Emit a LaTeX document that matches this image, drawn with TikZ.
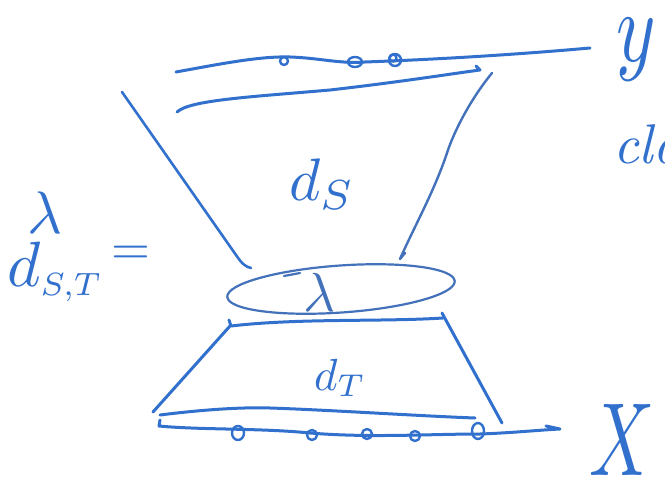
\documentclass[tikz,border=0pt]{standalone}
\usetikzlibrary{shapes.geometric}
\definecolor{ink}{RGB}{50,112,205}
\definecolor{inkb}{RGB}{68,114,186}
\begin{document}
\begin{tikzpicture}[x=1pt,y=-1pt, line cap=round, line join=round,
  pen/.style={draw=ink, line width=3pt},
  thinpen/.style={draw=inkb, line width=2.2pt},
  dot/.style={draw=ink, line width=2.4pt},
  lbl/.style={text=ink, inner sep=0pt}]
\useasboundingbox (0,0) rectangle (665,487);
\fill[white] (0,0) rectangle (665,487);

% top lines (Y space)
\draw[pen] (176,72) .. controls (220,64) and (260,56) .. (290,57)
  .. controls (320,58) and (340,64) .. (365,62)
  .. controls (420,60) and (500,56) .. (590,48);
\draw[dot] (284,61) circle[radius=4];
\draw[dot] (355,62) ellipse[x radius=7, y radius=5];
\draw[dot] (395,60) circle[radius=6];
\draw[dot] (393,58) circle[radius=3.5];
\draw[pen] (177,112) .. controls (190,100) and (250,97) .. (330,90)
  .. controls (400,82) and (450,74) .. (480,70) -- (476,66);

% slanted sides of the upper funnel
\draw[pen, line width=2.6pt] (122,92) -- (236,255) .. controls (242,264) and (246,267) .. (251,268);
\draw[thinpen, line width=2.4pt] (492,73) .. controls (470,100) and (455,130) .. (448,150)
  .. controls (435,190) and (415,225) .. (400,259) -- (405,253);

% ellipse with lambda
\node[ellipse, thinpen, minimum width=228pt, minimum height=47pt, rotate=4, inner sep=0pt] (ell) at (341,289) {};
\draw[thinpen] (284,276) -- (300,273);
\node[lbl, text=inkb, scale=5.5] (lam) at (320,292) {$\lambda$};

% lower trapezoid
\draw[pen] (229,320) -- (231,326) .. controls (300,318) and (380,322) .. (443,318);
\draw[pen] (442,313) -- (502,423);
\draw[pen] (230,326) -- (153,412);

% bottom lines (X space)
\draw[pen] (160,415) .. controls (200,410) and (240,407) .. (270,408)
  .. controls (330,410) and (420,416) .. (475,418);
\draw[pen] (160,420) -- (159,426) .. controls (200,430) and (260,428) .. (310,433)
  .. controls (370,438) and (430,434) .. (480,434)
  .. controls (510,433) and (540,430) .. (560,429) -- (546,426);
\draw[dot] (238,433) ellipse[x radius=6, y radius=7];
\draw[dot] (312,435) circle[radius=5];
\draw[dot] (367,434) circle[radius=5];
\draw[dot] (415,436) circle[radius=5];
\draw[dot] (478,431) ellipse[x radius=6, y radius=8];

% labels
\node[lbl, scale=6] (ds) at (322,184) {$d_S$};
\node[lbl, scale=4.5] (dt) at (340,378) {$d_T$};
\node[lbl, scale=6.4, anchor=base west] (dst) at (6,286) {$d_{\scalebox{0.72}{$\scriptstyle S,T$}}$};
\node[lbl, scale=6] (lam2) at (45,213) {$\lambda$};
\node[lbl, scale=5] (eq) at (131,255) {$=$};
\node[lbl, xscale=7.5, yscale=10] (ylab) at (636,50) {$y$};
\node[lbl, scale=5.6, anchor=base west] (cla) at (612,164) {\textit{cla}};
\node[lbl, xscale=7.2, yscale=10.4] (xlab) at (622,440) {$X$};
\end{tikzpicture}
\end{document}
